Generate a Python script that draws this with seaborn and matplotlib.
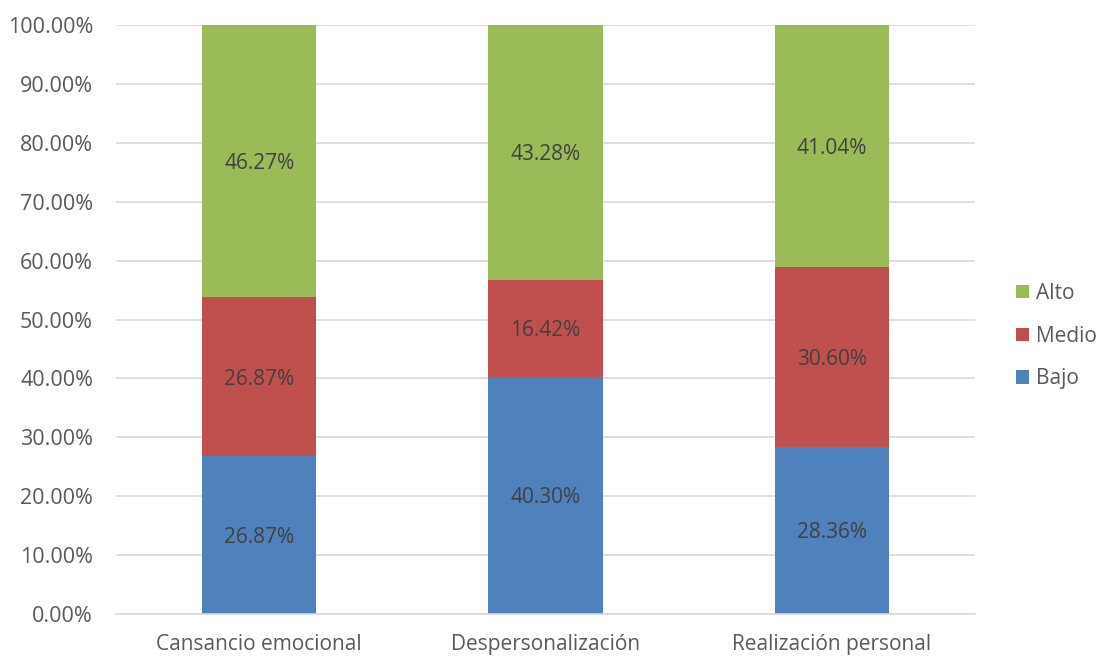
import matplotlib
matplotlib.use("Agg")
import matplotlib.pyplot as plt
from matplotlib.patches import Patch
import numpy as np
import pandas as pd
import seaborn as sns

categories = ["Cansancio emocional", "Despersonalización", "Realización personal"]
bajo = [26.87, 40.30, 28.36]
medio = [26.87, 16.42, 30.60]
alto = [46.27, 43.28, 41.04]
y_ticks = [0, 10, 20, 30, 40, 50, 60, 70, 80, 90, 100]

series_names = ["Bajo", "Medio", "Alto"]
series_values = [bajo, medio, alto]
colors = {"Bajo": "#4F81BD", "Medio": "#C0504D", "Alto": "#9BBB59"}

sns.set_theme(style="white")
plt.rcParams["font.family"] = ["Open Sans", "DejaVu Sans"]

fig = plt.figure(figsize=(11.02, 6.56), dpi=100)
ax = fig.add_axes([116 / 1102, 1 - 614 / 656, (975 - 116) / 1102, (614 - 25) / 656])

# cumulative tops, drawn from the tallest stack down so each layer overlays the previous
cum = np.cumsum(np.array(series_values), axis=0)
df = pd.DataFrame({"categoria": categories})
for i in range(len(series_names) - 1, -1, -1):
    name = series_names[i]
    df["top"] = cum[i]
    sns.barplot(data=df, x="categoria", y="top", color=colors[name], width=0.4,
                saturation=1, ax=ax, zorder=2, errorbar=None, edgecolor="none")

# value labels centred in each segment
for i, name in enumerate(series_names):
    for j, v in enumerate(series_values[i]):
        base = cum[i][j] - v
        ax.text(j, base + v / 2, f"{v:.2f}%", ha="center", va="center_baseline",
                fontsize=15, color="#404040", zorder=3)

ax.set_ylim(0, 100)
ax.set_xlim(-0.5, 2.5)
ax.set_yticks(y_ticks)
ax.set_yticklabels([f"{t:.2f}%" for t in y_ticks])
ax.yaxis.grid(True, color="#D9D9D9", linewidth=1.2, zorder=0)
ax.set_axisbelow(True)
ax.set_xlabel("")
ax.set_ylabel("")
for s in ["top", "right", "left"]:
    ax.spines[s].set_visible(False)
ax.spines["bottom"].set_color("#D9D9D9")
ax.spines["bottom"].set_linewidth(1.2)
ax.tick_params(axis="both", length=0, labelcolor="#595959")
ax.tick_params(axis="x", labelsize=15, pad=14.5)
ax.tick_params(axis="y", labelsize=15.5, pad=16.5)

handles = [Patch(facecolor=colors[n], edgecolor="none") for n in ["Alto", "Medio", "Bajo"]]
fig.legend(handles, ["Alto", "Medio", "Bajo"], loc="center left",
           bbox_to_anchor=(1016 / 1102, 1 - 336 / 656), frameon=False, borderpad=0,
           borderaxespad=0, fontsize=15, labelcolor="#595959", handlelength=0.6,
           handleheight=0.6, handletextpad=0.35, labelspacing=1.05)

fig.savefig("out.png", dpi=100)
